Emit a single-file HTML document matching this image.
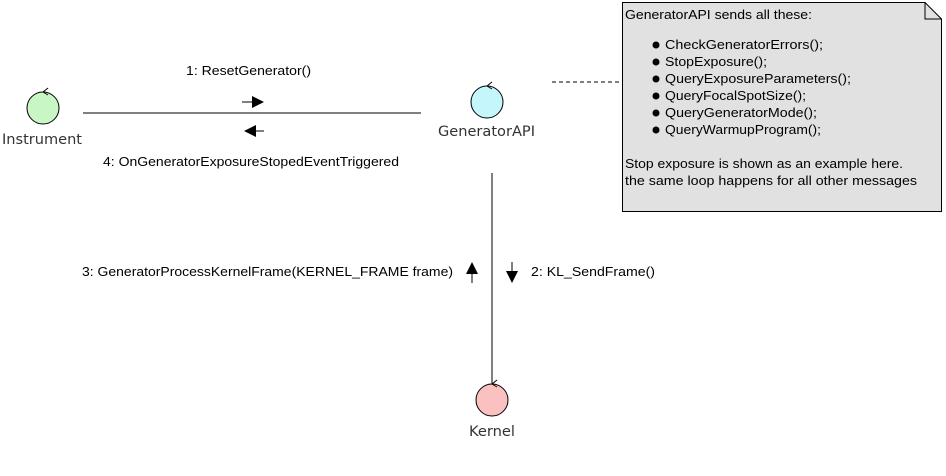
<!DOCTYPE html>
<html><head><style>
body{margin:0;background:#fff;width:946px;height:476px;overflow:hidden}
svg{display:block}
text{font-family:"Liberation Sans","DejaVu Sans",sans-serif;font-size:13px;fill:#000}
.lbl{font-family:"DejaVu Sans",sans-serif;font-size:14px;fill:#333}
</style></head><body>
<svg width="946" height="476" xmlns="http://www.w3.org/2000/svg">
<line x1="83" y1="113" x2="421" y2="113" stroke="#000"/>
<line x1="492" y1="173" x2="492" y2="384" stroke="#000"/>
<line x1="552" y1="82" x2="622" y2="82" stroke="#000" stroke-dasharray="4,3"/>
<line x1="242" y1="102" x2="254" y2="102" stroke="#000"/>
<polygon points="252,96 264,102 252,108" fill="#000"/>
<line x1="252" y1="131" x2="264" y2="131" stroke="#000"/>
<polygon points="256,125 244,131 256,137" fill="#000"/>
<line x1="472" y1="272" x2="472" y2="283" stroke="#000"/>
<polygon points="466,274 472,262 478,274" fill="#000"/>
<line x1="512" y1="262" x2="512" y2="273" stroke="#000"/>
<polygon points="506,271 512,283 518,271" fill="#000"/>
<text x="186" y="75" textLength="125" lengthAdjust="spacingAndGlyphs">1: ResetGenerator()</text>
<text x="103" y="166" textLength="296" lengthAdjust="spacingAndGlyphs">4: OnGeneratorExposureStopedEventTriggered</text>
<text x="82" y="276" textLength="371" lengthAdjust="spacingAndGlyphs">3: GeneratorProcessKernelFrame(KERNEL_FRAME frame)</text>
<text x="531" y="276" textLength="124" lengthAdjust="spacingAndGlyphs">2: KL_SendFrame()</text>
<circle cx="43" cy="108" r="16" fill="#c8f7c5" stroke="#000"/>
<path d="M43 92 l5 -4 M43 92 l5 3" stroke="#000" fill="none"/>
<text class="lbl" x="2" y="144" textLength="80" lengthAdjust="spacingAndGlyphs">Instrument</text>
<circle cx="487" cy="102" r="16" fill="#c4f6fb" stroke="#000"/>
<path d="M487 86 l5 -4 M487 86 l5 3" stroke="#000" fill="none"/>
<text class="lbl" x="438" y="136" textLength="97" lengthAdjust="spacingAndGlyphs">GeneratorAPI</text>
<circle cx="492" cy="400" r="16" fill="#fbc0c0" stroke="#000"/>
<path d="M492 384 l5 -4 M492 384 l5 3" stroke="#000" fill="none"/>
<text class="lbl" x="469" y="436" textLength="46" lengthAdjust="spacingAndGlyphs">Kernel</text>
<path d="M622.5 2.5 H925 L941.5 19 V211.5 H622.5 Z" fill="#e1e1e1" stroke="#000"/>
<path d="M925 2.5 V19 H941.5" fill="none" stroke="#000"/>
<text x="625" y="19" textLength="187" lengthAdjust="spacingAndGlyphs">GeneratorAPI sends all these:</text>
<circle cx="656" cy="45" r="3.5" fill="#000"/><text x="665" y="49" textLength="158" lengthAdjust="spacingAndGlyphs">CheckGeneratorErrors();</text>
<circle cx="656" cy="62" r="3.5" fill="#000"/><text x="665" y="66" textLength="102" lengthAdjust="spacingAndGlyphs">StopExposure();</text>
<circle cx="656" cy="79" r="3.5" fill="#000"/><text x="665" y="83" textLength="186" lengthAdjust="spacingAndGlyphs">QueryExposureParameters();</text>
<circle cx="656" cy="96" r="3.5" fill="#000"/><text x="665" y="100" textLength="141" lengthAdjust="spacingAndGlyphs">QueryFocalSpotSize();</text>
<circle cx="656" cy="113" r="3.5" fill="#000"/><text x="665" y="117" textLength="152" lengthAdjust="spacingAndGlyphs">QueryGeneratorMode();</text>
<circle cx="656" cy="130" r="3.5" fill="#000"/><text x="665" y="134" textLength="156" lengthAdjust="spacingAndGlyphs">QueryWarmupProgram();</text>
<text x="625" y="168" textLength="278" lengthAdjust="spacingAndGlyphs">Stop exposure is shown as an example here.</text>
<text x="625" y="185" textLength="292" lengthAdjust="spacingAndGlyphs">the same loop happens for all other messages</text>
</svg>
</body></html>
